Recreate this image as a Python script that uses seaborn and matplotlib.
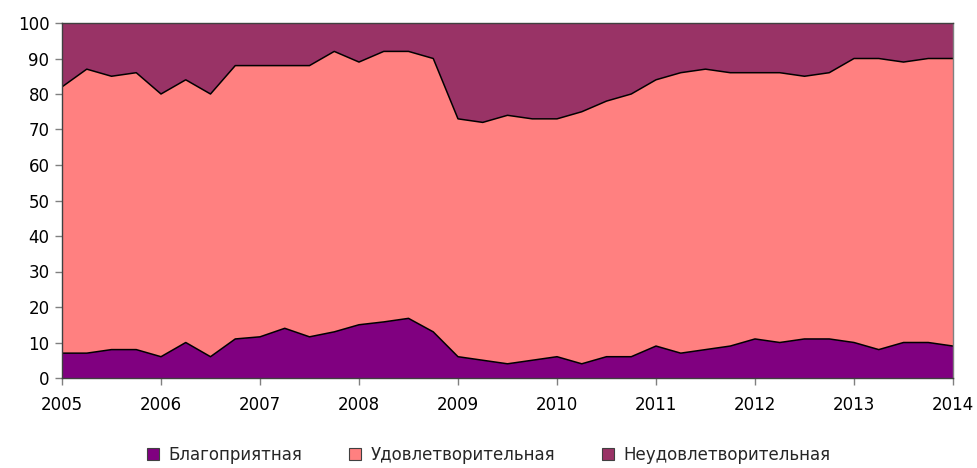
import matplotlib
matplotlib.use("Agg")
import matplotlib.pyplot as plt
import seaborn as sns
import pandas as pd
from matplotlib.patches import Patch

quarters = [2005.00, 2005.25, 2005.50, 2005.75, 2006.00, 2006.25, 2006.50, 2006.75,
            2007.00, 2007.25, 2007.50, 2007.75, 2008.00, 2008.25, 2008.50, 2008.75,
            2009.00, 2009.25, 2009.50, 2009.75, 2010.00, 2010.25, 2010.50, 2010.75,
            2011.00, 2011.25, 2011.50, 2011.75, 2012.00, 2012.25, 2012.50, 2012.75,
            2013.00, 2013.25, 2013.50, 2013.75, 2014.00]

favorable = [7, 7, 8, 8, 6, 10, 6, 11, 11.6, 14, 11.6, 13, 15, 15.8, 16.8, 13,
             6, 5, 4, 5, 6, 4, 6, 6, 9, 7, 8, 9, 11, 10, 11, 11, 10, 8, 10, 10, 9]
satisfactory = [75, 80, 77, 78, 74, 74, 74, 77, 76.4, 74, 76.4, 79, 74, 76.2, 75.2, 77,
                67, 67, 70, 68, 67, 71, 72, 74, 75, 79, 79, 77, 75, 76, 74, 75, 80, 82, 79, 80, 81]
unfavorable = [18, 13, 15, 14, 20, 16, 20, 12, 12, 12, 12, 8, 11, 8, 8, 10,
               27, 28, 26, 27, 27, 25, 22, 20, 16, 14, 13, 14, 14, 14, 15, 14, 10, 10, 11, 10, 10]

labels = ["Благоприятная", "Удовлетворительная", "Неудовлетворительная"]
colors = ["#800080", "#FF8080", "#993366"]
years = [2005, 2006, 2007, 2008, 2009, 2010, 2011, 2012, 2013, 2014]
yticks = [0, 10, 20, 30, 40, 50, 60, 70, 80, 90, 100]

sns.set_theme(style="white")
plt.rcParams['font.family'] = ['DejaVu Sans']

fig = plt.figure(figsize=(9.78, 4.68), dpi=100)
ax = fig.add_axes([62/978, 90/468, 891/978, 355/468])

ax.stackplot(quarters, favorable, satisfactory, unfavorable, colors=colors,
             edgecolor="none", linewidth=0)

df = pd.DataFrame({"x": quarters,
                   "b1": favorable,
                   "b2": [a + b for a, b in zip(favorable, satisfactory)]})
sns.lineplot(data=df, x="x", y="b1", color="black", linewidth=1.1, ax=ax)
sns.lineplot(data=df, x="x", y="b2", color="black", linewidth=1.1, ax=ax)

ax.set_xlim(2005, 2014)
ax.set_ylim(0, 100)
ax.set_xticks(years)
ax.set_xticklabels([str(y) for y in years])
ax.set_yticks(yticks)
ax.set_xlabel("")
ax.set_ylabel("")

for s in ["right"]:
    ax.spines[s].set_color("#808080")
    ax.spines[s].set_linewidth(1.0)
for s in ["left", "bottom", "top"]:
    ax.spines[s].set_color("#404040")
    ax.spines[s].set_linewidth(1.0)

ax.tick_params(axis="both", which="major", direction="out", length=5, width=1,
               color="#808080", labelsize=12, labelcolor="black", bottom=True, left=True)
ax.tick_params(axis="x", pad=8)
ax.tick_params(axis="y", pad=4)

handles = [Patch(facecolor=c, edgecolor="#404040", linewidth=0.8) for c in colors]
fig.legend(handles, labels, loc="center", bbox_to_anchor=(0.5, 13/468),
           ncol=3, frameon=False, fontsize=12, handlelength=0.7, handleheight=0.7,
           handletextpad=0.6, columnspacing=2.8)

fig.savefig("out.png", dpi=100)
